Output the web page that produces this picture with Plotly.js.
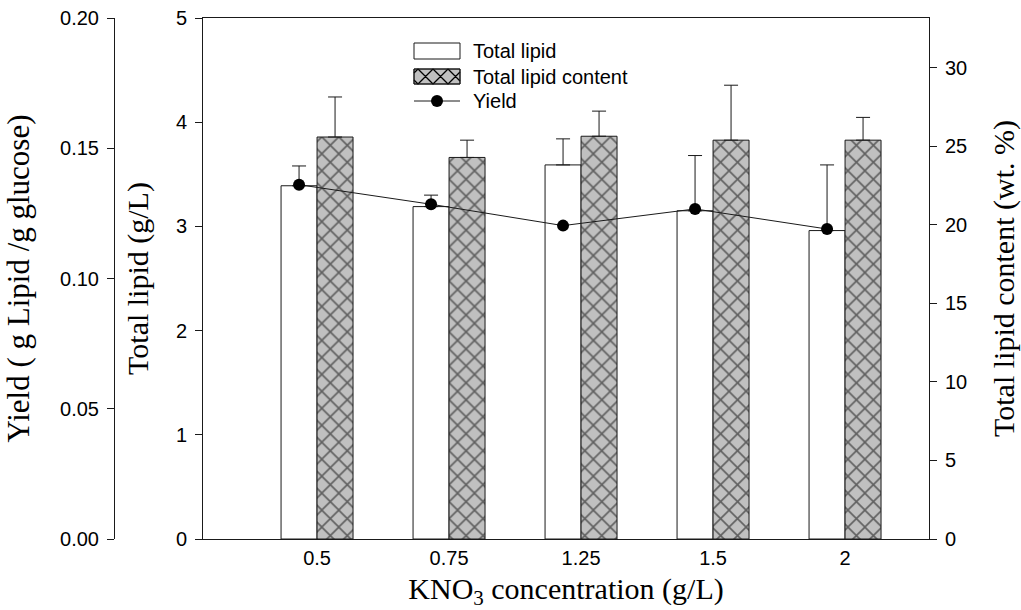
<!DOCTYPE html>
<html>
<head>
<meta charset="utf-8">
<script src="https://cdn.plot.ly/plotly-3.0.1.min.js"></script>
<style>
  html, body { margin: 0; padding: 0; background: #fff; }
  #chart { width: 1021px; height: 610px; }
</style>
</head>
<body>
<div id="chart"></div>
<script>
// KNO3 concentrations (g/L)
var categories = ['0.5', '0.75', '1.25', '1.5', '2'];

// Total lipid (g/L) with upper error
var totalLipid = [3.39, 3.19, 3.59, 3.15, 2.96];
var totalLipidErr = [0.19, 0.11, 0.25, 0.53, 0.63];

// Total lipid content (wt. %) with upper error
var lipidContent = [25.6, 24.3, 25.65, 25.4, 25.4];
var lipidContentErr = [2.55, 1.1, 1.6, 3.5, 1.45];

// Yield (g lipid / g glucose)
var yieldVals = [0.136, 0.1285, 0.1203, 0.1267, 0.119];

var SANS = 'Liberation Sans, Arial, sans-serif';
var SERIF = 'Liberation Serif, Times New Roman, serif';
var INK = '#1a1a1a';

var W = 1021, H = 610;
var M = { l: 60, r: 92, t: 18, b: 71 };
var PW = W - M.l - M.r, PH = H - M.t - M.b;
function px(x) { return (x - M.l) / PW; }
function py(y) { return 1 - (y - M.t) / PH; }

var idx = categories.map(function (_, i) { return i; });
var barW = 0.2727;
var yieldX = idx.map(function (i) { return i - barW / 2; });

var traces = [
  {
    type: 'bar', name: 'Total lipid', x: idx, y: totalLipid,
    xaxis: 'x', yaxis: 'y', width: barW, offset: -barW,
    marker: { color: '#ffffff', line: { color: INK, width: 1 } },
    error_y: { type: 'data', symmetric: false, array: totalLipidErr,
      arrayminus: totalLipidErr.map(function () { return 0; }),
      color: INK, thickness: 1, width: 7 },
    showlegend: false, hoverinfo: 'skip'
  },
  {
    type: 'bar', name: 'Total lipid content', x: idx, y: lipidContent,
    xaxis: 'x', yaxis: 'y2', width: barW, offset: 0,
    marker: { color: '#c0c0c0', line: { color: INK, width: 1 },
      pattern: { shape: 'x', size: 12, solidity: 0.25, fgcolor: '#000000', fillmode: 'overlay' } },
    error_y: { type: 'data', symmetric: false, array: lipidContentErr,
      arrayminus: lipidContentErr.map(function () { return 0; }),
      color: INK, thickness: 1, width: 7 },
    showlegend: false, hoverinfo: 'skip'
  },
  {
    type: 'scatter', mode: 'lines+markers', name: 'Yield', x: yieldX, y: yieldVals,
    xaxis: 'x', yaxis: 'y3',
    line: { color: INK, width: 1 },
    marker: { color: '#000', size: 12, symbol: 'circle' },
    showlegend: false, hoverinfo: 'skip'
  }
];

// legend swatches drawn as shapes
var shapes = [];
function rectShape(x0, y0, x1, y1, fill) {
  return { type: 'rect', xref: 'paper', yref: 'paper', x0: px(x0), x1: px(x1), y0: py(y1), y1: py(y0),
    fillcolor: fill, line: { color: INK, width: 1 }, layer: 'above' };
}
function hatchPath(x0, y0, x1, y1, s, off) {
  var d = '';
  var w = x1 - x0, h = y1 - y0;
  [1, -1].forEach(function (dy) {
    for (var c = -h - s + off; c <= w + s; c += s) {
      var Px = x0 + c, Py = dy > 0 ? y0 : y1;
      var tmin = Math.max(x0 - Px, dy > 0 ? y0 - Py : Py - y1);
      var tmax = Math.min(x1 - Px, dy > 0 ? y1 - Py : Py - y0);
      if (tmax - tmin > 0.5) {
        d += 'M' + px(Px + tmin).toFixed(5) + ',' + py(Py + dy * tmin).toFixed(5) +
             'L' + px(Px + tmax).toFixed(5) + ',' + py(Py + dy * tmax).toFixed(5);
      }
    }
  });
  return d;
}
shapes.push(rectShape(414, 43, 460, 59, '#ffffff'));
shapes.push(rectShape(414, 69, 460, 84, '#c0c0c0'));
shapes.push({ type: 'path', xref: 'paper', yref: 'paper', path: hatchPath(414, 69, 460, 84, 15, 4),
  line: { color: '#000', width: 1.3 }, layer: 'above' });
shapes.push(rectShape(414, 69, 460, 84, 'rgba(0,0,0,0)'));
shapes.push({ type: 'line', xref: 'paper', yref: 'paper', x0: px(414), x1: px(460), y0: py(101), y1: py(101),
  line: { color: INK, width: 1 }, layer: 'above' });
shapes.push({ type: 'circle', xref: 'paper', yref: 'paper', x0: px(431), x1: px(443), y0: py(107), y1: py(95),
  fillcolor: '#000', line: { color: '#000', width: 0 }, layer: 'above' });

var legendNames = ['Total lipid', 'Total lipid content', 'Yield'];
var legendY = [51, 77, 101];
var annotations = legendNames.map(function (t, i) {
  return { text: t, xref: 'paper', yref: 'paper', x: px(471), y: py(legendY[i]),
    xanchor: 'left', yanchor: 'middle', showarrow: false,
    font: { family: SANS, size: 20, color: '#000' } };
});

var tickFont = { family: SANS, size: 20, color: '#000' };
var titleFont = { family: SERIF, size: 30, color: '#000' };

var layout = {
  width: W, height: H,
  margin: M,
  paper_bgcolor: '#fff', plot_bgcolor: '#fff',
  barmode: 'overlay',
  showlegend: false,
  xaxis: {
    domain: [px(203), 1],
    range: [-0.864, 4.636],
    tickvals: idx, ticktext: categories,
    ticks: '', showgrid: false, zeroline: false,
    showline: true, mirror: true, linecolor: INK, linewidth: 1,
    tickfont: tickFont, ticklabelstandoff: 1,
    title: { text: 'KNO<sub>3</sub> concentration (g/L)', font: titleFont, standoff: 16 }
  },
  yaxis: {
    range: [0, 5], dtick: 1, tick0: 0,
    ticks: 'outside', ticklen: 7, tickcolor: INK, tickwidth: 1,
    showline: true, linecolor: INK, linewidth: 1,
    showgrid: false, zeroline: false,
    tickfont: tickFont, ticklabelstandoff: 4,
    title: { text: 'Total lipid (g/L)', font: titleFont, standoff: 18 }
  },
  yaxis2: {
    overlaying: 'y', side: 'right', anchor: 'x',
    range: [0, 33.18], dtick: 5, tick0: 0,
    ticks: 'outside', ticklen: 7, tickcolor: INK, tickwidth: 1,
    showline: true, linecolor: INK, linewidth: 1,
    showgrid: false, zeroline: false,
    tickfont: tickFont, ticklabelstandoff: 4,
    title: { text: 'Total lipid content (wt. %)', font: titleFont, standoff: 28 }
  },
  yaxis3: {
    overlaying: 'y', side: 'left', anchor: 'free', position: px(114),
    range: [0, 0.2], dtick: 0.05, tick0: 0, tickformat: '.2f',
    ticks: 'outside', ticklen: 7, tickcolor: INK, tickwidth: 1,
    showline: true, linecolor: INK, linewidth: 1,
    showgrid: false, zeroline: false,
    tickfont: tickFont, ticklabelstandoff: 4,
    title: { text: 'Yield ( g Lipid /g glucose)', font: { family: SERIF, size: 31, color: '#000' }, standoff: 20 }
  },
  shapes: shapes,
  annotations: annotations
};

Plotly.newPlot('chart', traces, layout, { staticPlot: true, displayModeBar: false });
</script>
</body>
</html>
